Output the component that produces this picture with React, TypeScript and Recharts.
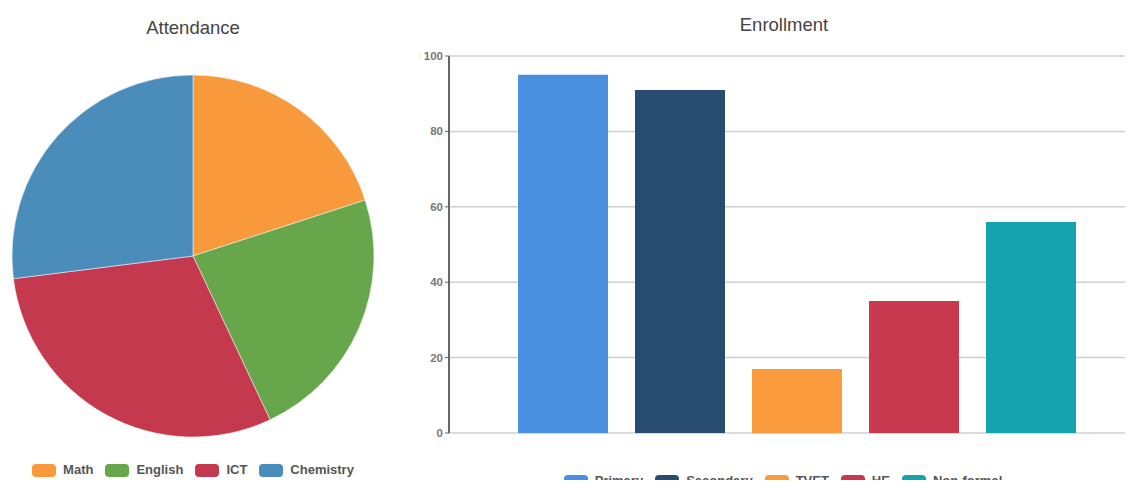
import React from 'react';
import { PieChart, Pie, Cell, Legend, BarChart, Bar, XAxis, YAxis, CartesianGrid } from 'recharts';

const subjects = ['Math', 'English', 'ICT', 'Chemistry'];
const attendance = [20, 23, 30, 27];
const subjectColors = ['#F89A3B', '#68A64B', '#C5394F', '#4A8DBB'];

const levels = ['Primary', 'Secondary', 'TVET', 'HE', 'Non-formal'];
const enrollment = [95, 91, 17, 35, 56];
const levelColors = ['#4A90E0', '#274C70', '#FA9B3E', '#C8384F', '#16A3B0'];
const yTicks = [0, 20, 40, 60, 80, 100];

const pieData = subjects.map((s, i) => ({ name: s, value: attendance[i] }));
const barRow: Record<string, any> = { name: 'Enrollment' };
levels.forEach((l, i) => { barRow[l] = enrollment[i]; });
const barData = [barRow];

const font = 'Arial, "Liberation Sans", sans-serif';

const makeLegend = (names: string[], colors: string[], gap: number) => () => (
  <div style={{ display: 'flex', justifyContent: 'center', alignItems: 'center', fontFamily: font, fontSize: 13, fontWeight: 'bold', color: '#555', lineHeight: '14px' }}>
    {names.map((n, i) => (
      <div key={n} style={{ display: 'flex', alignItems: 'center', marginRight: i < names.length - 1 ? gap : 0 }}>
        <div style={{ width: 24, height: 13, borderRadius: 4, background: colors[i], marginRight: 7 }} />
        <span>{n}</span>
      </div>
    ))}
  </div>
);

export default function App() {
  return (
    <div style={{ position: 'relative', width: 1133, height: 488, margin: -8, overflow: 'hidden', background: '#fff' }}>
      <div style={{ position: 'absolute', left: 0, top: 17, width: 386, textAlign: 'center', fontFamily: font, fontSize: 18.5, color: '#444' }}>Attendance</div>
      <div style={{ position: 'absolute', left: 684, top: 14, width: 200, textAlign: 'center', fontFamily: font, fontSize: 18.5, color: '#444' }}>Enrollment</div>
      <div style={{ position: 'absolute', left: 0, top: 0 }}>
        <PieChart width={400} height={488} margin={{ top: 0, right: 0, bottom: 0, left: 0 }}>
          <Pie data={pieData} dataKey="value" nameKey="name" cx={193} cy={256} outerRadius={181} startAngle={90} endAngle={-270} isAnimationActive={false} stroke="#fff" strokeWidth={0.5}>
            {pieData.map((d, i) => <Cell key={d.name} fill={subjectColors[i]} />)}
          </Pie>
          <Legend layout="horizontal" verticalAlign="middle" align="center" content={makeLegend(subjects, subjectColors, 12)} wrapperStyle={{ position: 'absolute', top: 463, left: 0, width: 386 }} />
        </PieChart>
      </div>
      <div style={{ position: 'absolute', left: 400, top: 0 }}>
        <BarChart width={744} height={488} data={barData} margin={{ top: 56, right: 0, bottom: 55, left: 0 }} barSize={90} barGap={27}>
          <CartesianGrid vertical={false} stroke="#cfcfcf" strokeWidth={1.5} />
          <XAxis dataKey="name" tick={false} tickLine={false} axisLine={{ stroke: '#666', strokeWidth: 2 }} height={0} />
          <YAxis width={49} domain={[0, 100]} ticks={yTicks} interval={0} axisLine={{ stroke: '#666', strokeWidth: 2 }} tickLine={{ stroke: '#666' }} tickSize={4} tick={{ fontSize: 11.5, fill: '#777', fontFamily: font, fontWeight: 'bold' }} />
          {levels.map((l, i) => (
            <Bar key={l} dataKey={l} fill={levelColors[i]} isAnimationActive={false} />
          ))}
          <Legend layout="horizontal" verticalAlign="middle" align="center" content={makeLegend(levels, levelColors, 12)} wrapperStyle={{ position: 'absolute', top: 474, left: 133, width: 500 }} />
        </BarChart>
      </div>
    </div>
  );
}
